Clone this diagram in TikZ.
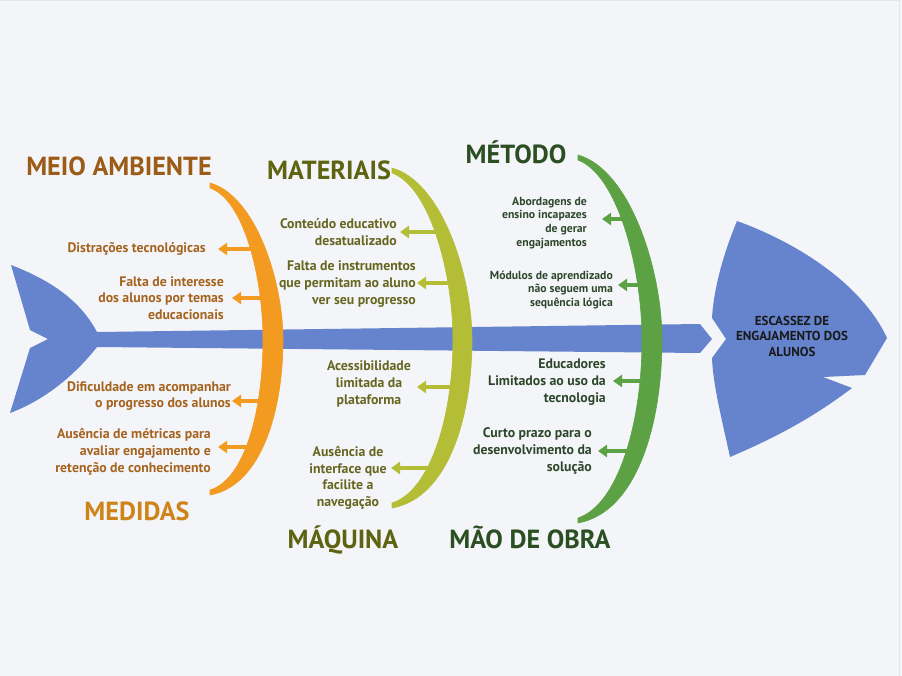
\documentclass[tikz,border=0pt]{standalone}
\usepackage{fontspec}
\setmainfont{PT Sans}
\usetikzlibrary{arrows.meta}

\definecolor{bg}{HTML}{F4F5F9}
\definecolor{fishblue}{HTML}{6584CD}
\definecolor{boneorange}{HTML}{F29B20}
\definecolor{boneolive}{HTML}{B3BE36}
\definecolor{bonegreen}{HTML}{5DA145}
\definecolor{txtbrown}{HTML}{9C5B16}
\definecolor{txtorange}{HTML}{CF8419}
\definecolor{itemorange}{HTML}{A5631E}
\definecolor{txtolive}{HTML}{5E6311}
\definecolor{itemolive}{HTML}{666620}
\definecolor{txtgreen}{HTML}{2B4F22}
\definecolor{itemgreen}{HTML}{2D472B}

% crescent-shaped rib: #1 colour, #2 tip x, #3 top y, #4 middle y, #5 bottom y, #6 outer x, #7 inner x
\newcommand{\ribshape}[7]{%
  \fill[#1, draw=#1, line width=0.6pt, line join=round]
    (#2,#3) .. controls ({#2+0.62*(#6-#2)},{#3+0.08*(#4-#3)}) and (#6,{#4-0.38*(#4-#3)}) .. (#6,#4)
    .. controls (#6,{#4+0.45*(#5-#4)}) and ({#2+0.71*(#6-#2)},{#5-0.06*(#5-#4)}) .. (#2,#5)
    -- (#2,{#5-5})
    .. controls ({#2+0.48*(#6-#2)},{#5-0.1*(#5-#4)}) and (#7,{#4+0.45*(#5-#4)}) .. (#7,#4)
    .. controls (#7,{#4-0.38*(#4-#3)}) and ({#2+0.48*(#6-#2)},{#3+0.11*(#4-#3)}) .. (#2,{#3+5})
    -- cycle;}

\begin{document}
\begin{tikzpicture}[x=1pt, y=-1pt,
  arr/.style={-{Triangle[length=9pt,width=12pt]}, line width=4pt},
  item/.style={font=\bfseries\fontsize{13.8}{16.8}\selectfont, align=right, inner sep=0pt},
  smallitem/.style={font=\bfseries\fontsize{11.7}{13.8}\selectfont, align=right, inner sep=0pt},
  heading/.style={font=\bfseries\fontsize{26.2}{28}\selectfont, inner sep=0pt, anchor=base},
  headtext/.style={font=\bfseries\fontsize{13}{15.5}\selectfont, align=center, inner sep=0pt, text=black!90}]

\useasboundingbox (0,0) rectangle (902,676);
\fill[bg] (0,0) rectangle (902,676);
\draw[black!10, line width=1pt] (0,0.5) -- (899,0.5) -- (899,676);

% tail and spine
\fill[fishblue] (11,265) .. controls (50,280) and (80,300) .. (97,332)
  -- (700,324) -- (712,339) -- (700,353) -- (97,347)
  .. controls (75,375) and (45,400) .. (10,413)
  -- (30,348) -- (48,339) -- (30,330) -- cycle;

% head
\fill[fishblue] (737,221) .. controls (790,240) and (860,280) .. (887,338)
  -- (865,375) -- (823,377) -- (852,388)
  .. controls (810,420) and (770,440) .. (730,457)
  .. controls (722,420) and (713,385) .. (712,358)
  -- (726,339) -- (712,318)
  .. controls (714,285) and (725,250) .. (737,221) -- cycle;
\node[headtext] (effect) at (792,336) {ESCASSEZ DE\\ENGAJAMENTO DOS\\ALUNOS};

% arrow end points
\coordinate (oa1) at (255,249); \coordinate (ob1) at (218,249);
\coordinate (oa2) at (268,298); \coordinate (ob2) at (232,298);
\coordinate (oa3) at (265,401); \coordinate (ob3) at (232,401);
\coordinate (oa4) at (250,447); \coordinate (ob4) at (218,447);
\coordinate (ma1) at (440,232); \coordinate (mb1) at (400,232);
\coordinate (ma2) at (455,283); \coordinate (mb2) at (417,283);
\coordinate (ma3) at (455,387); \coordinate (mb3) at (417,387);
\coordinate (ma4) at (432,468); \coordinate (mb4) at (391,468);
\coordinate (ga1) at (628,219); \coordinate (gb1) at (602,219);
\coordinate (ga2) at (642,285); \coordinate (gb2) at (618,285);
\coordinate (ga3) at (645,381); \coordinate (gb3) at (613,381);
\coordinate (ga4) at (630,451); \coordinate (gb4) at (598,451);

\draw[arr, boneorange] (oa1) -- (ob1);
\draw[arr, boneorange] (oa2) -- (ob2);
\draw[arr, boneorange] (oa3) -- (ob3);
\draw[arr, boneorange] (oa4) -- (ob4);
\draw[arr, boneolive] (ma1) -- (mb1);
\draw[arr, boneolive] (ma2) -- (mb2);
\draw[arr, boneolive] (ma3) -- (mb3);
\draw[arr, boneolive] (ma4) -- (mb4);
\draw[arr, bonegreen] (ga1) -- (gb1);
\draw[arr, bonegreen] (ga2) -- (gb2);
\draw[arr, bonegreen] (ga3) -- (gb3);
\draw[arr, bonegreen] (ga4) -- (gb4);

% ribs
\ribshape{boneorange}{210}{183}{340}{495}{283}{263}
\ribshape{boneolive}{392}{168}{340}{508}{472}{453}
\ribshape{bonegreen}{578}{155}{340}{523}{662}{642}

% category headings
\node[heading, text=txtbrown] (meio) at (119,176) {MEIO AMBIENTE};
\node[heading, text=txtolive] (mat) at (329,180) {MATERIAIS};
\node[heading, text=txtgreen] (met) at (516,164) {MÉTODO};
\node[heading, text=txtorange] (med) at (137,520) {MEDIDAS};
\node[heading, text=txtolive] (maq) at (343,548) {MÁQUINA};
\node[heading, text=txtgreen] (mao) at (530,548) {MÃO DE OBRA};

% causes
\node[item, text=itemorange, anchor=east] (o1) at (206,249) {Distrações tecnológicas};
\node[item, text=itemorange, anchor=east] (o2) at (224,298) {Falta de interesse\\dos alunos por temas\\educacionais};
\node[item, text=itemorange, anchor=east] (o3) at (231,396) {Dificuldade em acompanhar\\o progresso dos alunos};
\node[item, text=itemorange, anchor=east] (o4) at (211,452) {Ausência de métricas para\\avaliar engajamento e\\retenção de conhecimento};

\node[item, text=itemolive, anchor=east] (m1) at (397,232) {Conteúdo educativo\\desatualizado};
\node[item, text=itemolive, anchor=east] (m2) at (416,284) {Falta de instrumentos\\que permitam ao aluno\\ver seu progresso};
\node[item, text=itemolive, align=center] (m3) at (369,384) {Acessibilidade\\limitada da\\plataforma};
\node[item, text=itemolive, align=center] (m4) at (348,478) {Ausência de\\interface que\\facilite a\\navegação};

\node[smallitem, text=itemgreen, anchor=east] (g1) at (587,223) {Abordagens de\\ensino incapazes\\de gerar\\engajamentos};
\node[smallitem, text=itemgreen, anchor=east] (g2) at (613,290) {Módulos de aprendizado\\não seguem uma\\sequência lógica};
\node[item, text=itemgreen, anchor=east] (g3) at (606,382) {Educadores\\Limitados ao uso da\\tecnologia};
\node[item, text=itemgreen, anchor=east] (g4) at (592,451) {Curto prazo para o\\desenvolvimento da\\solução};

\end{tikzpicture}
\end{document}
